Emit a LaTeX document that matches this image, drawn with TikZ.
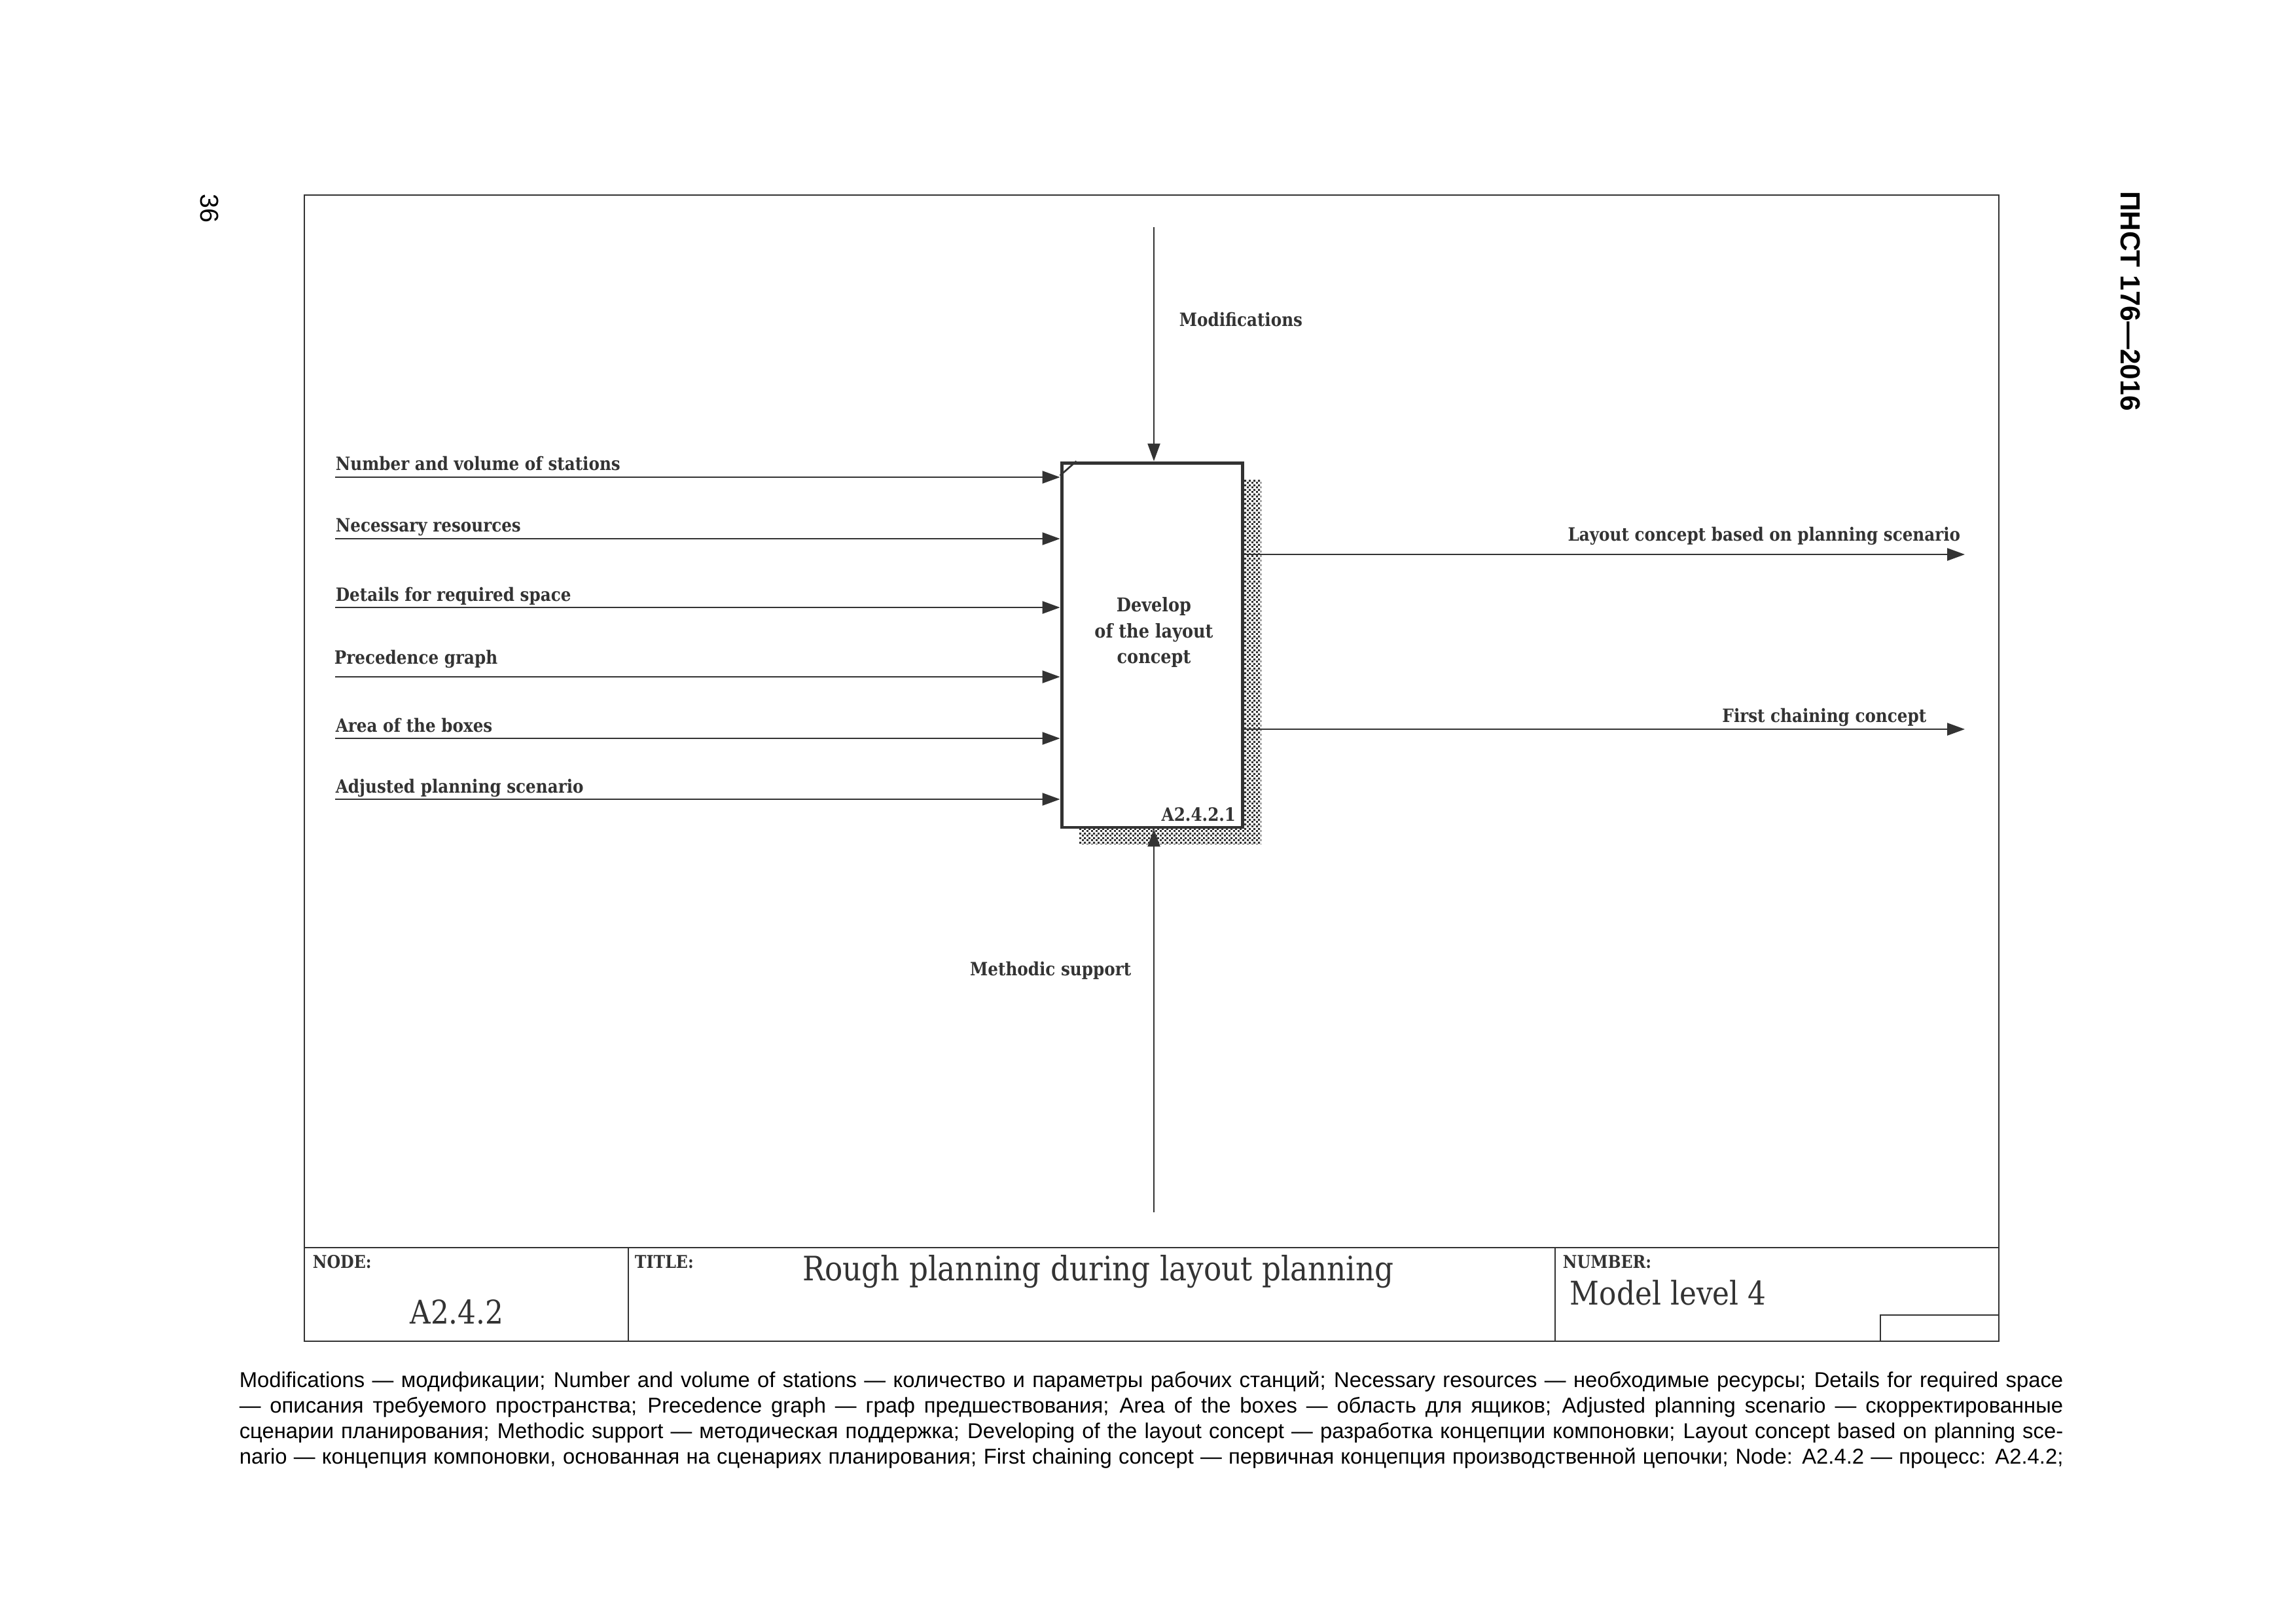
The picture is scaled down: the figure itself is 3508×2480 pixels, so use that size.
\documentclass[tikz,border=0pt]{standalone}
\usepackage{fontspec}
\setmainfont{DejaVu Serif}[FakeStretch=0.88]
\newfontfamily\notefont{Liberation Sans}
\usetikzlibrary{arrows.meta,patterns}

\definecolor{ink}{HTML}{333333}

\pgfdeclarepatternformonly{shadowcheck}{\pgfpointorigin}{\pgfqpoint{1.6pt}{1.6pt}}{\pgfqpoint{1.6pt}{1.6pt}}{%
  \pgfpathrectangle{\pgfpointorigin}{\pgfqpoint{0.75pt}{0.75pt}}%
  \pgfpathrectangle{\pgfqpoint{0.8pt}{0.8pt}}{\pgfqpoint{0.75pt}{0.75pt}}%
  \pgfusepath{fill}}

\tikzset{
  flow/.style={draw=ink, line width=0.5pt, -{Triangle[length=6.5pt,width=4.6pt]}},
  lbl/.style={text=ink, font=\bfseries\fontsize{6.75}{8}\selectfont, inner sep=0pt},
  frameline/.style={draw=ink, line width=0.7pt},
  hdr/.style={text=ink, font=\bfseries\fontsize{6.5}{7}\selectfont, inner sep=0pt},
  big/.style={text=ink, font=\fontsize{12}{14}\selectfont, inner sep=0pt}
}

\begin{document}
\begin{tikzpicture}[x=0.0084664cm, y=-0.0084664cm]
\useasboundingbox (0,0) rectangle (3508,2480);

% sheet frame and title block
\draw[frameline] (465,298) rectangle (3054,2049);
\draw[frameline] (465,1906) -- (3054,1906);
\draw[frameline] (960,1906) -- (960,2049);
\draw[frameline] (2376,1906) -- (2376,2049);
\draw[frameline] (2873,2049) -- (2873,2009) -- (3054,2009);

% activity box with its shadow
\fill[pattern=shadowcheck, pattern color=ink] (1649,732) rectangle (1927,1289);
\node (dev) [draw=ink, fill=white, line width=1.2pt, minimum width=66.7pt, minimum height=134.2pt, inner sep=0pt] at (1760.5,985.5) {};
\draw[ink, line width=0.65pt] ([yshift=-5.3pt]dev.north west) -- ([xshift=6pt]dev.north west);
\node[lbl, align=center, font=\bfseries\fontsize{7}{9.6}\selectfont] (devtext) at (1763,966) {Develop\\of the layout\\concept};
\node[lbl, anchor=base east] (devnum) at ([xshift=-3pt,yshift=3pt]dev.south east) {A2.4.2.1};

% inputs
\coordinate (in1) at (512,729);
\coordinate (in2) at (512,823);
\coordinate (in3) at (512,928);
\coordinate (in4) at (512,1034);
\coordinate (in5) at (512,1128);
\coordinate (in6) at (512,1221);
\draw[flow] (in1) -- (in1 -| dev.west);
\draw[flow] (in2) -- (in2 -| dev.west);
\draw[flow] (in3) -- (in3 -| dev.west);
\draw[flow] (in4) -- (in4 -| dev.west);
\draw[flow] (in5) -- (in5 -| dev.west);
\draw[flow] (in6) -- (in6 -| dev.west);
\node[lbl, anchor=base west] (in1lbl) at (512,718) {Number and volume of stations};
\node[lbl, anchor=base west] (in2lbl) at (512,812) {Necessary resources};
\node[lbl, anchor=base west] (in3lbl) at (512,918) {Details for required space};
\node[lbl, anchor=base west] (in4lbl) at (510,1014) {Precedence graph};
\node[lbl, anchor=base west] (in5lbl) at (512,1118) {Area of the boxes};
\node[lbl, anchor=base west] (in6lbl) at (512,1211) {Adjusted planning scenario};

% control and mechanism
\coordinate (ctl) at (1763,347);
\coordinate (mech) at (1763,1852);
\draw[flow] (ctl) -- (ctl |- dev.north);
\draw[flow] (mech) -- (mech |- dev.south);
\node[lbl, anchor=west] (ctllbl) at (1801,488) {Modifications};
\node[lbl, anchor=east] (mechlbl) at (1729,1483) {Methodic support};

% outputs
\coordinate (out1) at (3002,847);
\coordinate (out2) at (3002,1114);
\draw[flow] (dev.east |- out1) -- (out1);
\draw[flow] (dev.east |- out2) -- (out2);
\node[lbl, anchor=base east] (out1lbl) at (2996,826) {Layout concept based on planning scenario};
\node[lbl, anchor=base east] (out2lbl) at (2944,1103) {First chaining concept};

% title block texts
\node[hdr, anchor=west] (nodehdr) at (477,1928) {NODE:};
\node[big] (nodeval) at (698,2004) {A2.4.2};
\node[hdr, anchor=west] (titlehdr) at (969,1928) {TITLE:};
\node[big, font=\fontsize{12.4}{14}\selectfont] (titleval) at (1678,1943) {Rough planning during layout planning};
\node[hdr, anchor=west] (numhdr) at (2387,1928) {NUMBER:};
\node[big, anchor=west] (numval) at (2398,1975) {Model level 4};

% page marks
\node[rotate=-90, inner sep=0pt, font=\notefont\fontsize{9.5}{10}\selectfont] (pageno) at (320,318) {36};
\node[rotate=-90, inner sep=0pt, font=\notefont\bfseries\fontsize{10.2}{12}\selectfont] (docid) at (3255,460) {ПНСТ 176—2016};

% legend
\node[anchor=north west, inner sep=0pt, text width=671.4pt, align=justify, font=\notefont\fontsize{7.9}{9.4}\selectfont] (legend) at (365,2094) {\parfillskip=0pt Modifications — модификации; Number and volume of stations — количество и параметры рабочих станций; Necessary resources — необходимые ресурсы; Details for required space\linebreak — описания требуемого пространства; Precedence graph — граф предшествования; Area of the boxes — область для ящиков; Adjusted planning scenario — скорректированные\linebreak сценарии планирования; Methodic support — методическая поддержка; Developing of the layout concept — разработка концепции компоновки; Layout concept based on planning sce-\linebreak nario — концепция компоновки, основанная на сценариях планирования; First chaining concept — первичная концепция производственной цепочки; Node: A2.4.2 — процесс: A2.4.2;\par};
\end{tikzpicture}
\end{document}
